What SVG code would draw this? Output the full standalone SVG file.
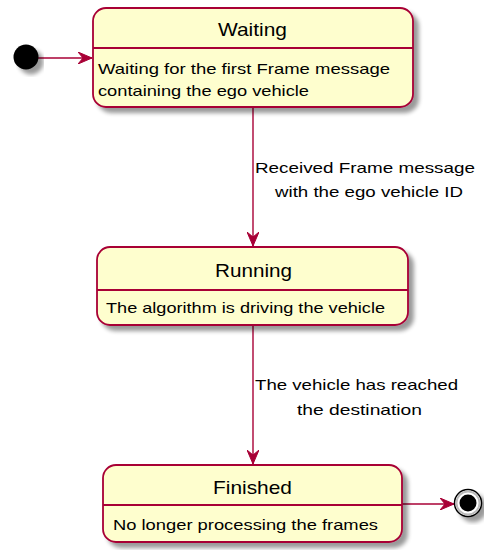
<svg xmlns="http://www.w3.org/2000/svg" width="484" height="550" viewBox="0 0 484 550">
  <style>
    .state { fill: #FEFECE; stroke: #A80036; stroke-width: 1.8; filter: url(#shadow); }
    .sep { stroke: #A80036; stroke-width: 1.8; }
    .title { font-family: "Liberation Sans", Arial, sans-serif; font-size: 19px; fill: #000; }
    .desc { font-family: "Liberation Sans", Arial, sans-serif; font-size: 15px; fill: #000; }
    .lbl { font-family: "Liberation Sans", Arial, sans-serif; font-size: 15px; fill: #000; }
    .edge { stroke: #A80036; stroke-width: 1.4; fill: none; marker-end: url(#arrow); }
  </style>
  <defs>
    <filter id="shadow" x="-10%" y="-10%" width="130%" height="140%">
      <feGaussianBlur in="SourceAlpha" stdDeviation="2.2"/>
      <feOffset dx="5" dy="5" result="b"/>
      <feComponentTransfer><feFuncA type="linear" slope="0.4"/></feComponentTransfer>
      <feMerge><feMergeNode/><feMergeNode in="SourceGraphic"/></feMerge>
    </filter>
    <marker id="arrow" viewBox="0 0 14 12" refX="14" refY="6" markerWidth="14" markerHeight="12" markerUnits="userSpaceOnUse" orient="auto">
      <path d="M0,0 L14,6 L0,12 L5,6 Z" fill="#A80036" stroke="#A80036" stroke-width="1"/>
    </marker>
  </defs>

  <!-- transitions -->
  <g id="connectors">
    <line class="edge" x1="38" y1="58" x2="92" y2="58"/>
    <line class="edge" x1="253" y1="108" x2="253" y2="246"/>
    <line class="edge" x1="253" y1="326" x2="253" y2="464"/>
    <line class="edge" x1="402" y1="504" x2="454" y2="504"/>
    <text class="lbl" x="255" y="173" textLength="220" lengthAdjust="spacingAndGlyphs">Received Frame message</text>
    <text class="lbl" x="275" y="197" textLength="188" lengthAdjust="spacingAndGlyphs">with the ego vehicle ID</text>
    <text class="lbl" x="255" y="390" textLength="203" lengthAdjust="spacingAndGlyphs">The vehicle has reached</text>
    <text class="lbl" x="297" y="415" textLength="125" lengthAdjust="spacingAndGlyphs">the destination</text>
  </g>

  <!-- initial pseudo-state -->
  <g id="start">
    <circle cx="26" cy="57" r="12.5" fill="#000" filter="url(#shadow)"/>
  </g>

  <!-- Waiting -->
  <g id="waiting">
    <rect class="state" x="93" y="8" width="320" height="99" rx="13" ry="13"/>
    <line class="sep" x1="93" y1="48" x2="413" y2="48"/>
    <text class="title" x="218" y="36" textLength="69" lengthAdjust="spacingAndGlyphs">Waiting</text>
    <text class="desc" x="98" y="74" textLength="292" lengthAdjust="spacingAndGlyphs">Waiting for the first Frame message</text>
    <text class="desc" x="98" y="96" textLength="211" lengthAdjust="spacingAndGlyphs">containing the ego vehicle</text>
  </g>

  <!-- Running -->
  <g id="running">
    <rect class="state" x="97" y="247" width="311" height="78" rx="13" ry="13"/>
    <line class="sep" x1="97" y1="290" x2="408" y2="290"/>
    <text class="title" x="215" y="277" textLength="77" lengthAdjust="spacingAndGlyphs">Running</text>
    <text class="desc" x="106" y="313" textLength="279" lengthAdjust="spacingAndGlyphs">The algorithm is driving the vehicle</text>
  </g>

  <!-- Finished -->
  <g id="finished">
    <rect class="state" x="103" y="465" width="299" height="77" rx="13" ry="13"/>
    <line class="sep" x1="103" y1="505" x2="402" y2="505"/>
    <text class="title" x="213" y="494" textLength="79" lengthAdjust="spacingAndGlyphs">Finished</text>
    <text class="desc" x="113" y="530" textLength="265" lengthAdjust="spacingAndGlyphs">No longer processing the frames</text>
  </g>

  <!-- final pseudo-state -->
  <g id="end">
    <circle cx="468" cy="503" r="13.5" fill="#fff" stroke="#000" stroke-width="1.5" filter="url(#shadow)"/>
    <circle cx="468" cy="503" r="11.5" fill="none" stroke="#bbb" stroke-width="2"/>
    <circle cx="468" cy="503" r="8.5" fill="#000"/>
  </g>
</svg>
